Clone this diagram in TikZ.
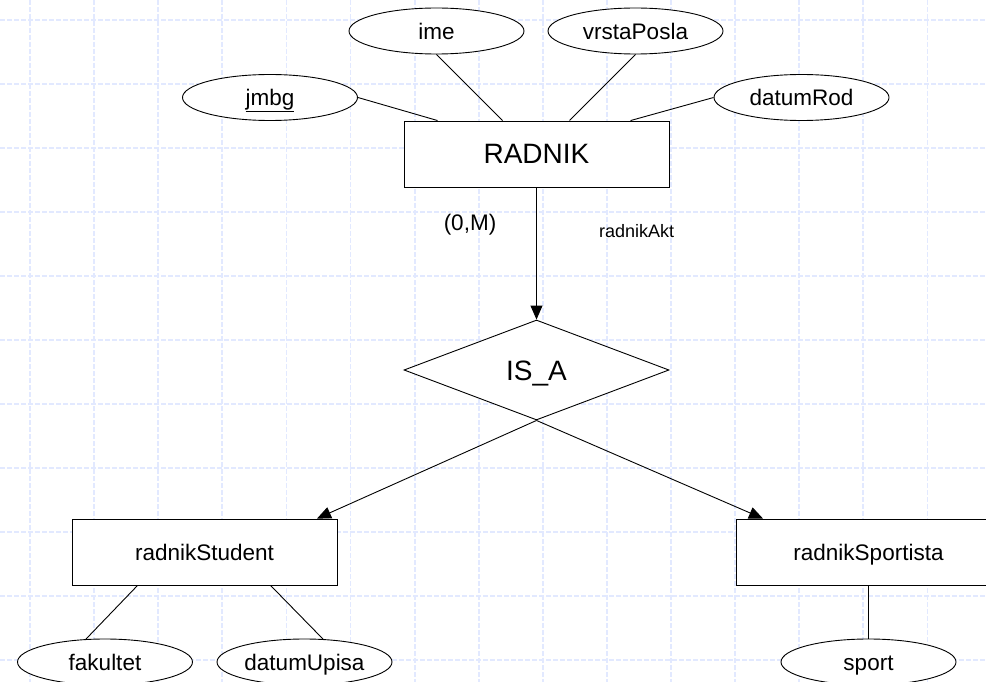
\documentclass[tikz,border=0pt]{standalone}
\usepackage{fontspec}
\setmainfont{Liberation Sans}
\usetikzlibrary{shapes.geometric,arrows.meta}
\definecolor{gridblue}{RGB}{226,233,255}
\tikzset{
  midfont/.style={font=\fontsize{22.5}{26}\selectfont, text height=16.1pt, text depth=0pt},
  bigfont/.style={font=\fontsize{28}{32}\selectfont, text height=20pt, text depth=0pt},
  smallfont/.style={font=\fontsize{18}{21}\selectfont, text height=12.9pt, text depth=0pt},
  attr/.style={draw=black, line width=0.9pt, fill=white, ellipse, minimum width=175pt, minimum height=46pt, inner sep=0pt, midfont},
  entity/.style={draw=black, line width=0.9pt, fill=white, rectangle, minimum width=265pt, minimum height=66pt, inner sep=0pt},
  relship/.style={draw=black, line width=0.9pt, fill=white, diamond, minimum width=265pt, minimum height=100pt, inner sep=0pt, aspect=2.65, bigfont},
  conn/.style={draw=black, line width=0.9pt},
  arr/.style={conn, -{Triangle[length=14pt,width=12pt]}},
  gridline/.style={draw=gridblue, line width=1.8pt, dash pattern=on 5pt off 2pt},
  lbl/.style={inner sep=0pt}
}
\begin{document}
\begin{tikzpicture}[x=1pt,y=-1pt]
\clip (0,0) rectangle (986,682);
\fill[white] (0,0) rectangle (986,682);
% grid
\foreach \k in {0,...,14} { \draw[gridline] ({30+64.1*\k},0) -- ({30+64.1*\k},682); }
\foreach \k in {0,...,10} { \draw[gridline] (0,{20+64*\k}) -- (986,{20+64*\k}); }
% attributes of RADNIK
\node[attr] (jmbg) at (270,97.5) {\underline{jmbg}};
\node[attr] (ime) at (436.5,31) {ime};
\node[attr] (vrsta) at (635.5,31) {vrstaPosla};
\node[attr] (datumRod) at (801.5,97.5) {datumRod};
% entities
\node[entity, bigfont] (radnik) at (536.5,154) {RADNIK};
\node[relship] (isa) at (536.5,370) {IS\_A};
\node[entity, midfont] (student) at (204.5,552) {radnikStudent};
\node[entity, midfont] (sportista) at (868.5,552) {radnikSportista};
% attributes of subtypes
\node[attr] (fakultet) at (105,662) {fakultet};
\node[attr] (upisa) at (304.5,662) {datumUpisa};
\node[attr] (sport) at (868.5,662) {sport};
% labels
\node[lbl, midfont] (card) at (470,222) {(0,M)};
\node[lbl, smallfont] (rolename) at (636.7,231) {radnikAkt};
% connectors
\draw[conn] (jmbg.east) -- ([xshift=34pt]radnik.north west);
\draw[conn] (ime.south) -- ([xshift=99pt]radnik.north west);
\draw[conn] (vrsta.south) -- ([xshift=166pt]radnik.north west);
\draw[conn] (datumRod.west) -- ([xshift=227pt]radnik.north west);
\draw[arr] (radnik.south) -- (isa.north);
\draw[arr] (isa.south) -- ([xshift=112.5pt]student.north);
\draw[arr] (isa.south) -- ([xshift=-105.5pt]sportista.north);
\draw[conn] ([xshift=66pt]student.south west) -- ([xshift=-19pt,yshift=-0.5pt]fakultet.north);
\draw[conn] ([xshift=199pt]student.south west) -- ([xshift=18.5pt,yshift=-0.5pt]upisa.north);
\draw[conn] (sportista.south) -- (sport.north);
\end{tikzpicture}
\end{document}
